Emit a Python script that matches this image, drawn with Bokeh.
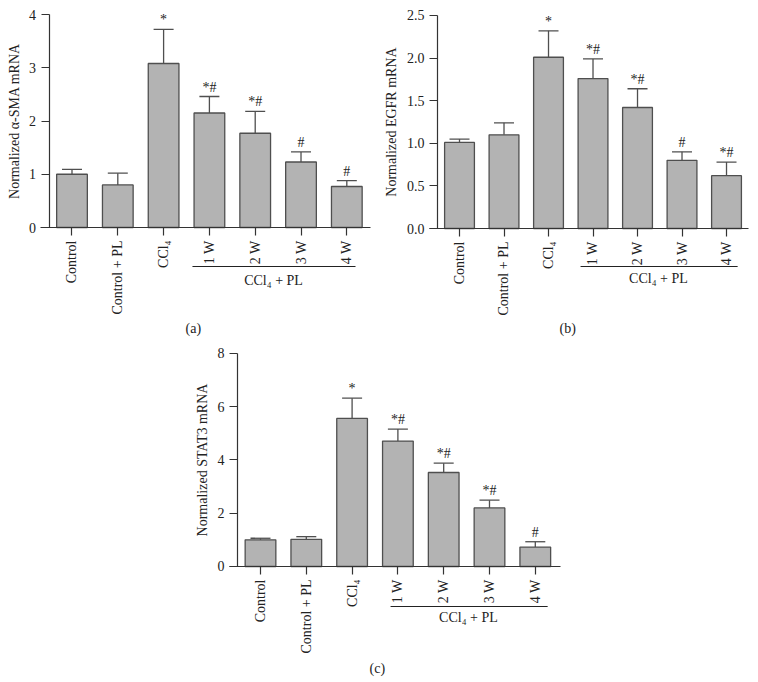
import math
from bokeh.plotting import figure
from bokeh.models import (Range1d, Whisker, TeeHead, ColumnDataSource,
                          FixedTicker, NumeralTickFormatter)
from bokeh.layouts import column, row
from bokeh.embed import file_html
from bokeh.resources import INLINE
from bokeh.core.properties import value

# ---------------- data ----------------
categories = ["Control", "Control + PL", "CCl\u2084", "1 W", "2 W", "3 W", "4 W"]
group_label = "CCl\u2084 + PL"

sma_mean = [1.00, 0.80, 3.08, 2.15, 1.77, 1.23, 0.77]
sma_upper = [1.09, 1.02, 3.72, 2.46, 2.18, 1.42, 0.88]
sma_marks = ["", "", "*", "*#", "*#", "#", "#"]

egfr_mean = [1.01, 1.10, 2.01, 1.76, 1.42, 0.80, 0.62]
egfr_upper = [1.05, 1.24, 2.32, 1.99, 1.64, 0.90, 0.78]
egfr_marks = ["", "", "*", "*#", "*#", "#", "*#"]

stat3_mean = [1.00, 1.02, 5.56, 4.71, 3.53, 2.20, 0.73]
stat3_upper = [1.06, 1.12, 6.32, 5.16, 3.88, 2.49, 0.93]
stat3_marks = ["", "", "*", "*#", "*#", "*#", "#"]

sma_ticks = [0, 1, 2, 3, 4]
egfr_ticks = [0, 0.5, 1.0, 1.5, 2.0, 2.5]
stat3_ticks = [0, 2, 4, 6, 8]

# ---------------- style ----------------
FONT = "Liberation Serif"
BAR_FILL = "#b3b3b3"
EDGE = "#4f4f4f"
AXIS = "#333333"
TXT = "#222222"
FS = "14px"


def panel(mean, upper, marks, ylabel, ymax, ticks, fmt, size, xr, yr, y_axis_at, x_bounds,
          ann, tag):
    p = figure(width=size[0], height=size[1], x_range=Range1d(*xr), y_range=Range1d(*yr),
               title=None, output_backend="svg", toolbar_location=None,
               min_border_left=0, min_border_right=0, min_border_top=0, min_border_bottom=0)
    p.outline_line_color = None
    p.grid.visible = False
    src = ColumnDataSource(dict(x=list(range(len(categories))), mean=mean,
                                upper=upper, marks=marks))
    p.vbar(x="x", top="mean", width=0.67, source=src, fill_color=BAR_FILL,
           line_color=EDGE, line_width=1.3)
    p.add_layout(Whisker(base="x", lower="mean", upper="upper", source=src,
                         dimension="height", lower_head=None,
                         upper_head=TeeHead(size=20, line_color=EDGE, line_width=1.3),
                         line_color=EDGE, line_width=1.3))
    p.text(x="x", y="upper", text="marks", source=src, text_font=value(FONT),
           text_font_size=FS, text_align="center", text_baseline="bottom",
           y_offset=-2, text_color=TXT)

    xa = p.xaxis[0]
    xa.fixed_location = 0
    xa.bounds = x_bounds
    xa.ticker = FixedTicker(ticks=list(range(len(categories))))
    xa.major_label_overrides = {i: c for i, c in enumerate(categories)}
    xa.major_label_orientation = math.pi / 2
    ya = p.yaxis[0]
    ya.fixed_location = y_axis_at
    ya.bounds = (0, ymax)
    ya.ticker = FixedTicker(ticks=ticks)
    ya.formatter = NumeralTickFormatter(format=fmt)
    ya.axis_label = ylabel
    ya.axis_label_text_font = FONT
    ya.axis_label_text_font_style = "normal"
    ya.axis_label_text_font_size = FS
    ya.axis_label_text_color = TXT
    ya.axis_label_standoff = 5
    for ax in (xa, ya):
        ax.axis_line_color = AXIS
        ax.axis_line_width = 1.2
        ax.major_tick_line_color = AXIS
        ax.major_tick_line_width = 1.2
        ax.major_tick_out = 8
        ax.major_tick_in = 0
        ax.minor_tick_line_color = None
        ax.major_label_text_font = FONT
        ax.major_label_text_font_size = FS
        ax.major_label_text_color = TXT
        ax.major_label_standoff = 5

    (bx0, bx1, by), (gx, gy), (tx, ty) = ann
    p.segment(x0=[bx0], y0=[by], x1=[bx1], y1=[by], line_color=TXT, line_width=1.2)
    p.text(x=[gx, tx], y=[gy, ty], text=[group_label, tag], text_font=value(FONT),
           text_font_size=FS, text_align="center", text_baseline="middle", text_color=TXT)
    return p


# panel (a): 383x345 px, 45.8 px per category, 53.25 px per unit
pa = panel(sma_mean, sma_upper, sma_marks, "Normalized \u03b1-SMA mRNA", 4, sma_ticks, "0",
           (383, 345), (-1.561, 6.801), (-2.216, 4.263), -0.502, (-0.688, 6.517),
           ((2.63, 6.19, -0.732), (4.40, -0.995), (2.65, -1.897)), "(a)")
# panel (b): 367x345 px, 44.5 px per category, 85.2 px per unit
pb = panel(egfr_mean, egfr_upper, egfr_marks, "Normalized EGFR mRNA", 2.5, egfr_ticks, "0.0",
           (367, 345), (-1.708, 6.539), (-1.373, 2.676), -0.494, (-0.674, 6.494),
           ((2.72, 6.25, -0.446), (4.47, -0.587), (2.43, -1.174)), "(b)")
# panel (c): 750x335 px, 45.8 px per category, 26.625 px per unit
pc = panel(stat3_mean, stat3_upper, stat3_marks, "Normalized STAT3 mRNA", 8, stat3_ticks, "0",
           (750, 335), (-5.677, 10.699), (-4.282, 8.300), -0.502, (-0.677, 6.550),
           ((2.84, 6.27, -1.502), (4.54, -1.915), (2.55, -3.83)), "(c)")

layout = column(row(pa, pb), pc)

open("out.html", "w").write(file_html(layout, INLINE))
